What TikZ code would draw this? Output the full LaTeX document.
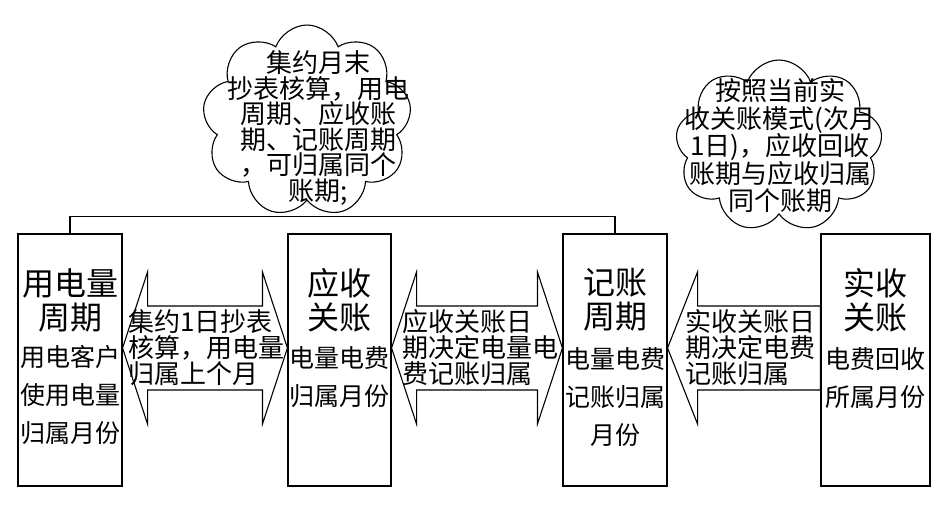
\documentclass[tikz,border=0pt]{standalone}
\usepackage{fontspec}
\setmainfont{Noto Sans CJK SC}
\usetikzlibrary{shapes.symbols,calc}
\lineskiplimit=-100pt
\begin{document}
\begin{tikzpicture}[x=1pt,y=-1pt,
  box/.style={draw,line width=1.1pt,minimum height=252pt,inner sep=0pt},
  ttl/.style={align=center,font=\fontsize{32}{34}\selectfont,inner sep=0pt},
  sub/.style={align=center,font=\fontsize{25}{38}\selectfont,inner sep=0pt},
  arrtxt/.style={align=left,font=\fontsize{26}{26}\selectfont,inner sep=0pt,anchor=west},
  arr/.style={draw,line width=1.1pt,fill=white},
  ln/.style={draw,line width=1.1pt},
  cl/.style={cloud,draw,cloud puffs=9,cloud puff arc=140,cloud ignores aspect,line width=1.1pt,fill=white,inner sep=0pt},
  cltxt/.style={align=center,inner sep=0pt}]
\useasboundingbox (0,0) rectangle (949,528);
% boxes
\node[box,minimum width=104pt] (b1) at (70,360) {};
\node[box,minimum width=103pt] (b2) at (339.5,360) {};
\node[box,minimum width=104pt] (b3) at (615,360) {};
\node[box,minimum width=109pt] (b4) at (875.5,360) {};
% connector line on top
\draw[ln] (b1.north) -- ++(0,-17) -| (b3.north);
% clouds
\node[cl,minimum width=209pt,minimum height=192pt] (c1) at (307,121) {};
\node[cl,minimum width=207pt,minimum height=172pt] (c2) at (779,146) {};
\node[cltxt,font=\fontsize{26}{25.5}\selectfont] (ct1) at (318,128)
  {集约月末\\抄表核算，用电\\周期、应收账\\期、记账周期\\，可归属同个\\账期;};
\node[cltxt,font=\fontsize{26}{27.5}\selectfont] (ct2) at (780,146)
  {按照当前实\\收关账模式(次月\\1日)，应收回收\\账期与应收归属\\同个账期};
% arrows
\coordinate (ay) at (0,348);
\draw[arr] (b1.east|-ay) -- ++(25,-76) -- ++(0,34) -- ($(b2.west|-ay)+(-25,-42)$) -- ++(0,-34)
  -- (b2.west|-ay) -- ++(-25,76) -- ++(0,-34) -- ($(b1.east|-ay)+(25,42)$) -- ++(0,34) -- cycle;
\draw[arr] (b2.east|-ay) -- ++(25,-76) -- ++(0,34) -- ($(b3.west|-ay)+(-25,-42)$) -- ++(0,-34)
  -- (b3.west|-ay) -- ++(-25,76) -- ++(0,-34) -- ($(b2.east|-ay)+(25,42)$) -- ++(0,34) -- cycle;
\draw[arr] (b3.east|-ay) -- ++(30,-76) -- ++(0,34) -- ($(b4.west|-ay)+(0,-42)$)
  -- ($(b4.west|-ay)+(0,42)$) -- ($(b3.east|-ay)+(30,42)$) -- ++(0,34) -- cycle;
% box texts
\node[ttl] (t1) at (70,300) {用电量\\周期};
\node[ttl] (t2) at (339.5,300) {应收\\关账};
\node[ttl] (t3) at (615,300) {记账\\周期};
\node[ttl] (t4) at (875.5,300) {实收\\关账};
\node[sub] (s1) at (70,395) {用电客户\\使用电量\\归属月份};
\node[sub] (s2) at (339.5,377.5) {电量电费\\归属月份};
\node[sub] (s3) at (615,397) {电量电费\\记账归属\\月份};
\node[sub] (s4) at (875.5,378) {电费回收\\所属月份};
% arrow texts
\node[arrtxt] (a1) at (128,348) {集约1日抄表\\核算，用电量\\归属上个月};
\node[arrtxt] (a2) at (402,348) {应收关账日\\期决定电量电\\费记账归属};
\node[arrtxt] (a3) at (685,348) {实收关账日\\期决定电费\\记账归属};
\end{tikzpicture}
\end{document}
